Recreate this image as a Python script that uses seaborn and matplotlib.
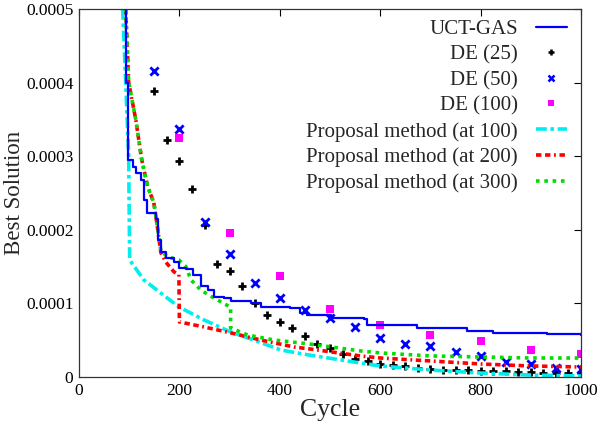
import matplotlib
matplotlib.use("Agg")
import matplotlib.pyplot as plt
from matplotlib.lines import Line2D
import seaborn as sns

# UCT-GAS (step-like descent)
uct_x = [89, 93, 97, 107, 113, 123, 129, 135, 150, 153, 157, 163, 173, 189, 199, 213, 227,
         243, 256, 269, 288, 302, 342, 362, 421, 441, 455, 501, 567, 574, 674, 773, 825, 932, 1000]
uct_y = [0.0005, 0.0004, 0.000295, 0.000286, 0.000277, 0.000268, 0.000241, 0.000223, 0.000223,
         0.000215, 0.000186, 0.00017, 0.000162, 0.000156, 0.000148, 0.000147, 0.000139, 0.000124,
         0.000118, 0.000109, 0.000107, 0.000103, 0.0001, 0.0000952, 0.0000939, 0.0000871, 0.0000844,
         0.00008, 0.0000789, 0.0000707, 0.0000667, 0.0000626, 0.0000599, 0.0000585, 0.0000571]

# DE markers
de25_x = [150, 175, 200, 225, 250, 275, 300, 325, 350, 375, 400, 425, 450, 475, 500, 525, 550,
          575, 600, 625, 650, 675, 700, 725, 750, 775, 800, 825, 850, 875, 900, 925, 950, 975, 1000]
de25_y = [0.000388, 0.000322, 0.000294, 0.000256, 0.000207, 0.000154, 0.000144, 0.000124, 0.000101,
          0.0000845, 0.000075, 0.000066, 0.000056, 0.0000455, 0.000039, 0.000031, 0.0000245, 0.0000215,
          0.0000175, 0.000016, 0.000015, 0.0000125, 0.000011, 0.00001, 0.0000095, 0.000009, 0.0000085,
          0.000008, 0.0000075, 0.000007, 0.0000065, 0.000006, 0.0000058, 0.0000055, 0.0000054]
de50_x = [150, 200, 250, 300, 350, 400, 450, 500, 550, 600, 650, 700, 750, 800, 850, 900, 950, 1000]
de50_y = [0.000416, 0.000337, 0.000211, 0.000167, 0.000128, 0.000108, 0.0000911, 0.0000803, 0.000068,
          0.000053, 0.000045, 0.000042, 0.000034, 0.0000285, 0.00002, 0.0000175, 0.000012, 0.0000115]
de100_x = [200, 300, 400, 500, 600, 700, 800, 900, 1000]
de100_y = [0.000325, 0.000196, 0.000137, 0.0000925, 0.0000707, 0.000057, 0.000049, 0.0000367, 0.000031]

# Proposal method restarts
p100_x = [87, 93, 99, 100, 101, 129, 163, 199, 249, 302, 348, 402, 457, 561, 600, 700, 800, 899, 1000]
p100_y = [0.0005, 0.0004, 0.0003, 0.00022, 0.000159, 0.000132, 0.000114, 0.0000952, 0.0000775,
          0.0000612, 0.0000503, 0.0000367, 0.00003, 0.000019, 0.000015, 0.0000095, 0.0000054,
          0.0000027, 0.0000014]
p200_x = [93, 99, 113, 125, 137, 149, 157, 163, 173, 189, 199, 200, 249, 302, 362, 428, 461, 561,
          600, 700, 800, 899, 1000]
p200_y = [0.0005, 0.0004, 0.00035, 0.000295, 0.000258, 0.000237, 0.0002, 0.000169, 0.000156,
          0.000143, 0.000139, 0.0000748, 0.000068, 0.00006, 0.0000503, 0.0000408, 0.000038,
          0.0000286, 0.0000258, 0.0000218, 0.0000177, 0.000015, 0.0000136]
p300_x = [93, 99, 113, 125, 137, 149, 157, 163, 175, 183, 199, 213, 223, 243, 262, 288, 302, 302,
          336, 388, 457, 561, 600, 700, 800, 899, 1000]
p300_y = [0.0005, 0.0004, 0.00035, 0.000295, 0.000258, 0.000237, 0.0002, 0.000172, 0.000164,
          0.000162, 0.000159, 0.00015, 0.000132, 0.000118, 0.00011, 0.0001, 0.000095, 0.0000667,
          0.000057, 0.0000503, 0.000045, 0.0000354, 0.0000327, 0.0000286, 0.0000272, 0.0000258,
          0.0000258]

xticks = [0, 200, 400, 600, 800, 1000]
yticks = [0, 0.0001, 0.0002, 0.0003, 0.0004, 0.0005]
ytick_labels = ["0", "0.0001", "0.0002", "0.0003", "0.0004", "0.0005"]

sns.set_style("white")
plt.rcParams["font.family"] = ["Liberation Serif", "DejaVu Serif"]

fig = plt.figure(figsize=(6, 4.23), dpi=100)
ax = fig.add_axes([79 / 600, 1 - 377 / 423, 502 / 600, 368 / 423])

c_blue = "#0000ff"
c_cyan = "#00eeee"
c_red = "#ff0000"
c_green = "#00dd00"
c_mag = "#ff00ff"

ls100 = (0, (3, 1, 1, 1))
ls200 = (0, (1.5, 1, 1.5, 1, 0.5, 1))
ls300 = (0, (1, 1.3))

sns.lineplot(x=p100_x, y=p100_y, ax=ax, color=c_cyan, lw=2.6, linestyle=ls100,
             sort=False, estimator=None)
sns.lineplot(x=p200_x, y=p200_y, ax=ax, color=c_red, lw=2.6, linestyle=ls200,
             sort=False, estimator=None)
sns.lineplot(x=p300_x, y=p300_y, ax=ax, color=c_green, lw=2.6, linestyle=ls300,
             sort=False, estimator=None)
sns.lineplot(x=uct_x, y=uct_y, ax=ax, color=c_blue, lw=1.6, drawstyle="steps-post",
             sort=False, estimator=None)
sns.scatterplot(x=de25_x, y=de25_y, ax=ax, color="black", marker="+", s=40, linewidth=2)
sns.scatterplot(x=de50_x, y=de50_y, ax=ax, color=c_blue, marker="x", s=35, linewidth=2)
sns.scatterplot(x=de100_x, y=de100_y, ax=ax, color=c_mag, marker="s", s=30, linewidth=0)

ax.set_xlim(0, 1000)
ax.set_ylim(0, 0.0005)
ax.set_xticks(xticks)
ax.set_xticklabels([str(t) for t in xticks])
ax.set_yticks(yticks)
ax.set_yticklabels(ytick_labels)
ax.tick_params(direction="in", top=True, right=True, length=5, width=0.8,
               labelsize=12.5, colors="black", pad=4)
for s in ax.spines.values():
    s.set_color("#333333")
    s.set_linewidth(0.9)

ax.set_xlabel("Cycle", fontsize=18.5, labelpad=0)
ax.set_ylabel("Best Solution", fontsize=16.5, labelpad=1)

handles = [
    Line2D([], [], color=c_blue, lw=1.6),
    Line2D([], [], color="black", marker="+", ls="none", ms=5, mew=1.8),
    Line2D([], [], color=c_blue, marker="x", ls="none", ms=5, mew=1.8),
    Line2D([], [], color=c_mag, marker="s", ls="none", ms=5, mew=0),
    Line2D([], [], color=c_cyan, lw=2.6, ls=ls100),
    Line2D([], [], color=c_red, lw=2.6, ls=ls200),
    Line2D([], [], color=c_green, lw=2.6, ls=ls300),
]
labels = ["UCT-GAS", "DE (25)", "DE (50)", "DE (100)", "Proposal method (at 100)",
          "Proposal method (at 200)", "Proposal method (at 300)"]
ax.legend(handles, labels, loc="upper right", bbox_to_anchor=(488 / 502, 0.972),
          frameon=False, markerfirst=False, fontsize=15, handlelength=1.5,
          handletextpad=0.85, labelspacing=0.29, borderpad=0, borderaxespad=0)

fig.savefig("out.png", dpi=100)
